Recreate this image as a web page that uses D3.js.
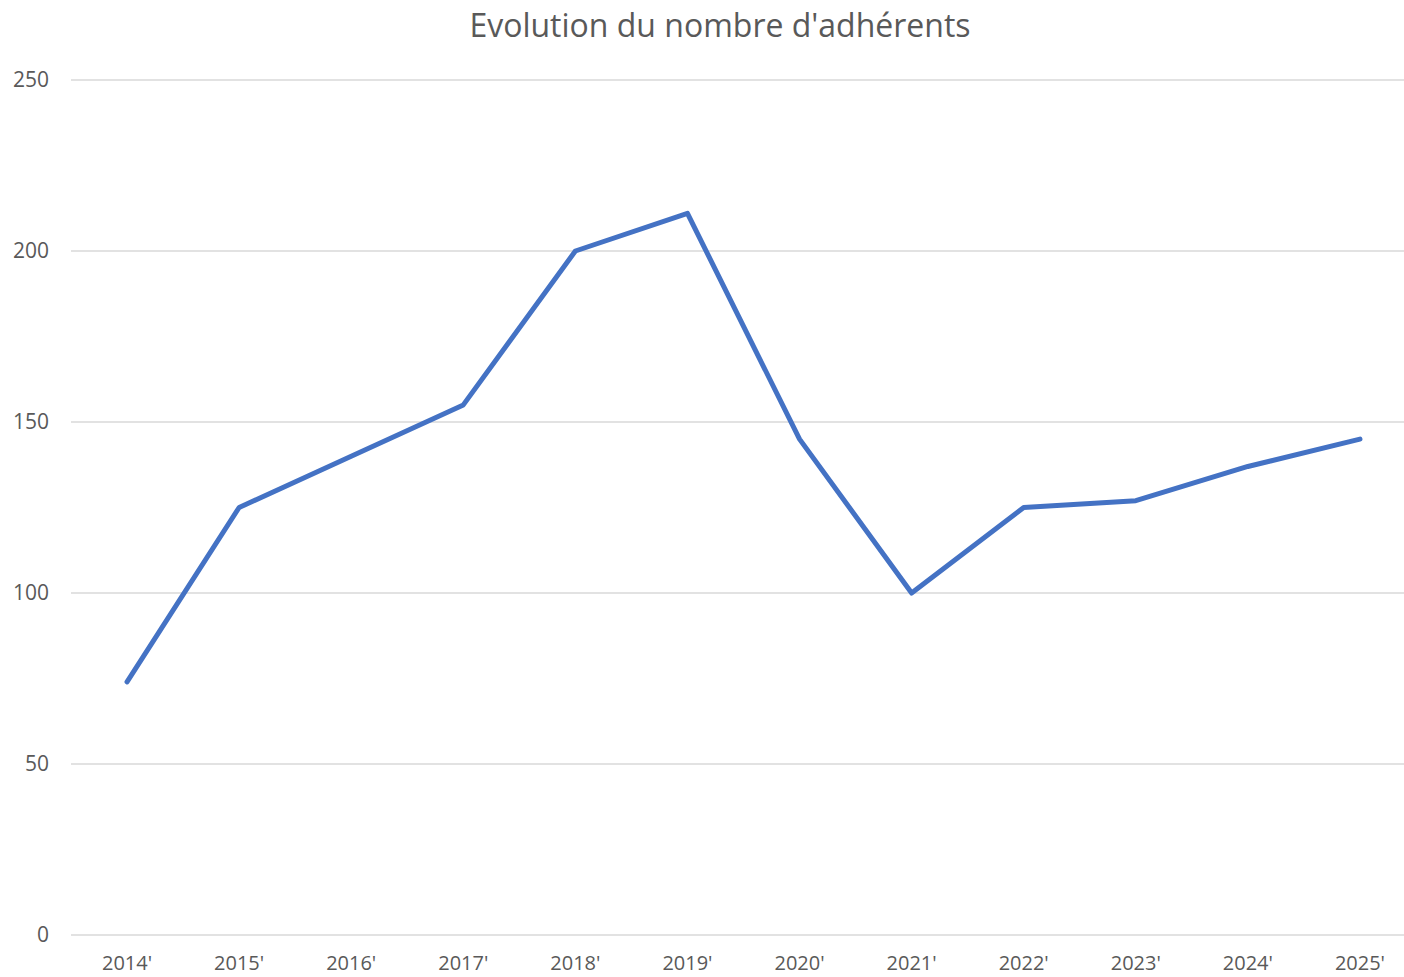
<!DOCTYPE html>
<html>
<head>
<meta charset="utf-8">
<script src="https://cdn.jsdelivr.net/npm/d3@7"></script>
<style>
    body { margin: 0; background: #fff; }
    text { font-family: "Open Sans", "Liberation Sans", sans-serif; fill: #595959; }
</style>
</head>
<body>
<svg id="chart" width="1404" height="977"></svg>
<script>
var years = ["2014'", "2015'", "2016'", "2017'", "2018'", "2019'", "2020'", "2021'", "2022'", "2023'", "2024'", "2025'"];
var adherents = [74, 125, 140, 155, 200, 211, 145, 100, 125, 127, 137, 145];
var yTicks = [0, 50, 100, 150, 200, 250];
var title = "Evolution du nombre d'adhérents";

var svg = d3.select("#chart");

var x = d3.scaleBand()
    .domain(years)
    .range([71, 1416]);

var y = d3.scaleLinear()
    .domain([0, 250])
    .range([935, 80]);

// gridlines
svg.append("g")
    .attr("class", "grid")
    .selectAll("line")
    .data(yTicks)
    .enter().append("line")
    .attr("x1", 71)
    .attr("x2", 1416)
    .attr("y1", function(d) { return y(d); })
    .attr("y2", function(d) { return y(d); })
    .attr("stroke", "#d9d9d9")
    .attr("stroke-width", 1.5);

// y labels
svg.append("g")
    .selectAll("text")
    .data(yTicks)
    .enter().append("text")
    .attr("x", 49)
    .attr("y", function(d) { return y(d); })
    .attr("dy", "0.35em")
    .attr("text-anchor", "end")
    .attr("font-size", 21)
    .text(function(d) { return d; });

// x labels
svg.append("g")
    .selectAll("text")
    .data(years)
    .enter().append("text")
    .attr("x", function(d) { return x(d) + x.bandwidth() / 2; })
    .attr("y", 970)
    .attr("text-anchor", "middle")
    .attr("font-size", 20)
    .text(function(d) { return d; });

// line
var line = d3.line()
    .x(function(d, i) { return x(years[i]) + x.bandwidth() / 2; })
    .y(function(d) { return y(d); });

svg.append("path")
    .datum(adherents)
    .attr("d", line)
    .attr("fill", "none")
    .attr("stroke", "#4472c4")
    .attr("stroke-width", 5)
    .attr("stroke-linejoin", "round")
    .attr("stroke-linecap", "round");

// title
svg.append("text")
    .attr("x", 720)
    .attr("y", 37)
    .attr("text-anchor", "middle")
    .attr("font-size", 32)
    .text(title);
</script>
</body>
</html>
